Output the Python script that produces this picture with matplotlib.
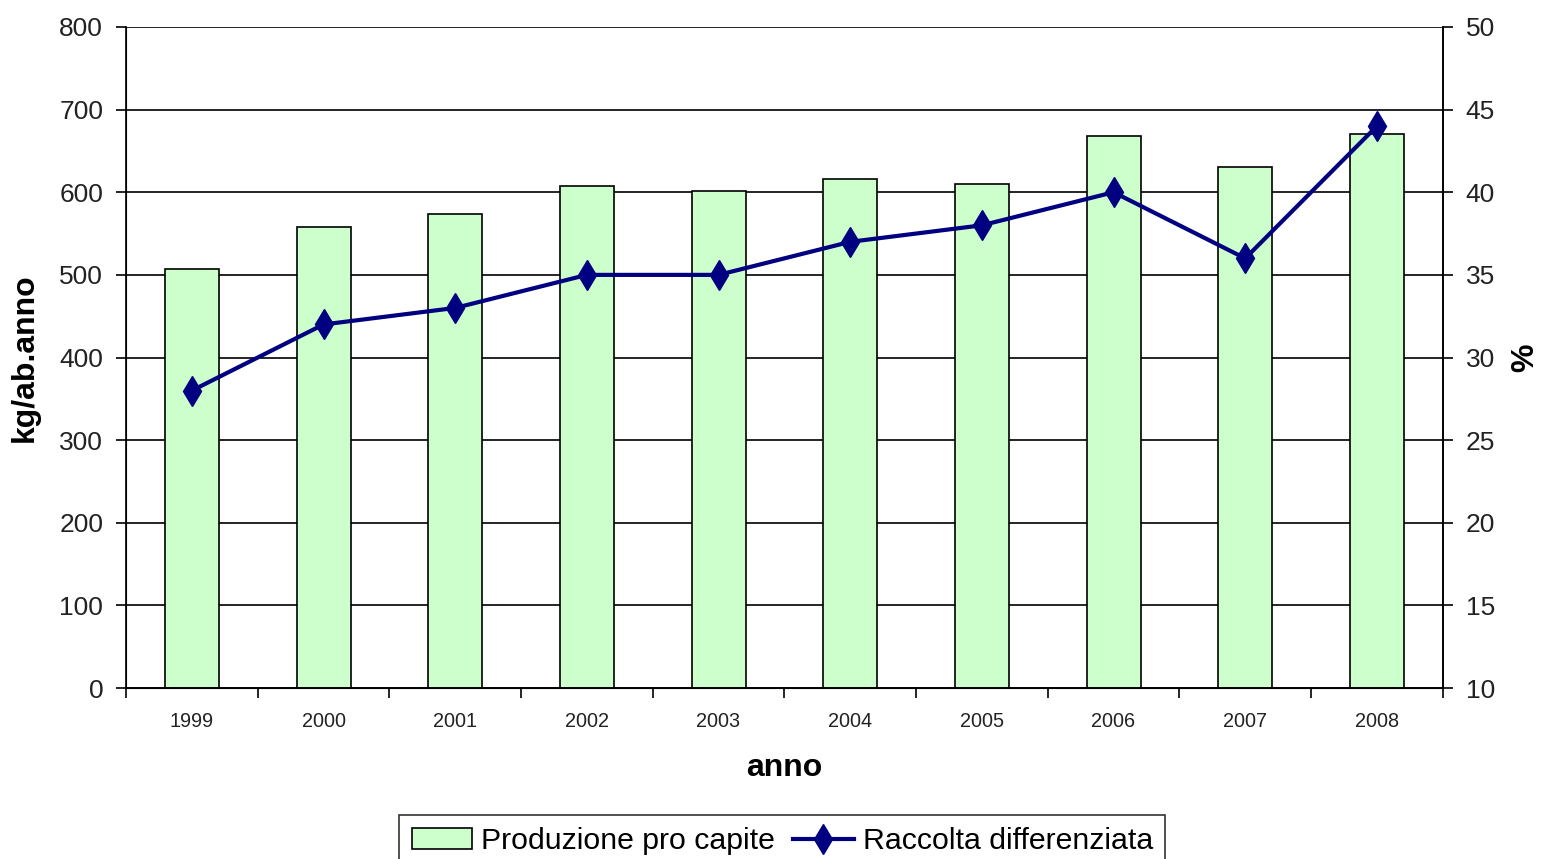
import numpy as np
import matplotlib.pyplot as plt
from matplotlib.ticker import FixedLocator, NullFormatter

# --- data ---
years = ['1999', '2000', '2001', '2002', '2003', '2004', '2005', '2006', '2007', '2008']
produzione = [507, 558, 574, 608, 602, 616, 610, 668, 630, 670]   # kg/ab.anno
raccolta = [28, 32, 33, 35, 35, 37, 38, 40, 36, 44]               # %

plt.rcParams['font.family'] = ['Liberation Sans', 'DejaVu Sans']
tick_col = '#222222'

fig = plt.figure(figsize=(15.43, 8.59), dpi=100)
ax = fig.add_axes([0.0817, 0.199, 0.8533, 0.7696])

x = np.arange(len(years))
bars = ax.bar(x, produzione, width=0.41, color='#CCFFCC', edgecolor='black',
              linewidth=1.2, zorder=2, label='Produzione pro capite')

ax.set_xlim(-0.5, len(years) - 0.5)
ax.set_ylim(0, 800)
ax.set_yticks(np.arange(0, 801, 100))
ax.yaxis.grid(True, color='black', linewidth=1.2, zorder=0)
ax.set_axisbelow(True)

# year labels centred, ticks between categories
ax.set_xticks(x)
ax.set_xticklabels(years, fontsize=14.3, color=tick_col)
ax.tick_params(axis='x', length=0, pad=17)
ax.xaxis.set_minor_locator(FixedLocator(np.arange(-0.5, len(years), 1)))
ax.xaxis.set_minor_formatter(NullFormatter())
ax.tick_params(axis='x', which='minor', length=7, width=1.2, direction='out')
ax.tick_params(axis='y', labelsize=19, labelcolor=tick_col, length=7, width=1.2,
               direction='out', pad=9.5)

for s in ['left', 'bottom', 'right']:
    ax.spines[s].set_linewidth(1.2)
ax.spines['top'].set_visible(False)

ax.set_xlabel('anno', fontsize=23, fontweight='bold', labelpad=16)
ax.set_ylabel('kg/ab.anno', fontsize=23, fontweight='bold', labelpad=14)

ax2 = ax.twinx()
line, = ax2.plot(x, raccolta, color='#000080', linewidth=3, marker='d',
                 markersize=15, zorder=3, label='Raccolta differenziata')
ax2.set_ylim(10, 50)
ax2.set_yticks(np.arange(10, 51, 5))
ax2.tick_params(axis='y', labelsize=19, labelcolor=tick_col, length=7, width=1.2,
                direction='out', pad=9.5)
ax2.spines['top'].set_visible(False)
ax2.spines['right'].set_linewidth(1.2)
ax2.set_ylabel('%', fontsize=23, fontweight='bold', labelpad=11)

leg = fig.legend(handles=[bars, line], loc='upper center', ncol=2,
                 bbox_to_anchor=(0.507, 0.051), borderaxespad=0, fontsize=21.8,
                 frameon=True, fancybox=False, edgecolor='black', handlelength=2.0,
                 handletextpad=0.3, columnspacing=0.6, borderpad=0.4)
leg.get_frame().set_linewidth(1.2)

fig.savefig('out.png', dpi=100)
